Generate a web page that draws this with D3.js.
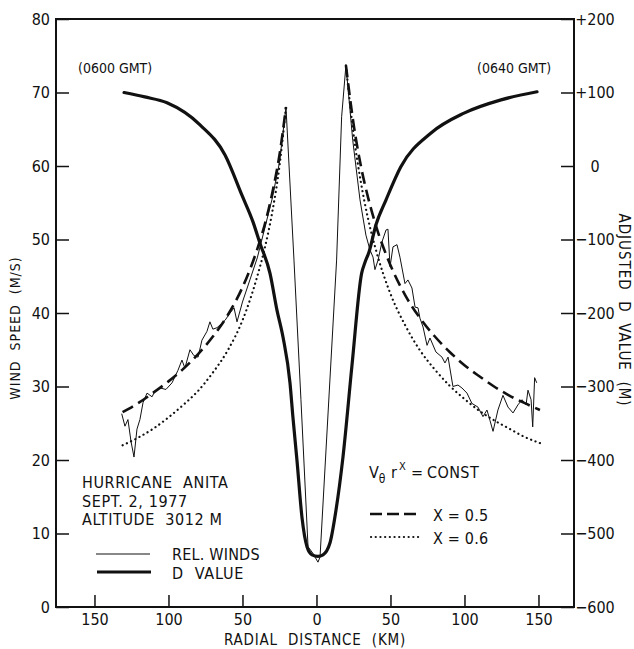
<!DOCTYPE html>
<html>
<head>
<meta charset="utf-8">
<script src="https://cdn.jsdelivr.net/npm/d3@7"></script>
<style>
    body { margin: 0; background: #fff; }
    svg text { font-family: 'Liberation Sans Narrow', 'DejaVu Sans Condensed', sans-serif; fill: #111; }
    .tick line { stroke: #111; stroke-width: 1.5; }
    .tick text { font-size: 16px; }
</style>
</head>
<body>
<div id="chart"></div>
<script>
// Relative winds (thin line), km from centre / m/s
const windKm = [-131.6, -129.4, -127.4, -125.3, -123.3, -121.3, -119.3, -117.2, -114.5, -111.1,
    -109.1, -105.7, -101.7, -97.6, -93.6, -90.9, -88.9, -85.5, -82.8, -80,
    -77.4, -74, -72, -70, -67.2, -64.5, -61.8, -58.4, -55.7, -53.7,
    -50, -45, -40, -35, -30, -25, -20.6, -15.2, -10.5, -5.7,
    -2.4, 1, 2.4, 13.6, 17, 19.9, 24.5, 29.4, 33.4, 36.1,
    38.2, 39.5, 41.6, 44.3, 47, 48.3, 49.7, 51.7, 54.4, 56.4,
    59.8, 61.8, 64.5, 66.6, 68.6, 69.9, 72, 74.7, 76.7, 80.7,
    84.8, 86.8, 88.9, 92.2, 95.6, 98.3, 101.7, 105, 109.1, 112.5,
    115.2, 117.2, 119.3, 122.6, 126, 129.4, 132.8, 136.1, 138.9, 141.6,
    142.9, 145, 146.1, 147.4, 148.8];
const windVal = [26.3, 24.6, 25.5, 22.5, 20.4, 24.2, 25.5, 27.8, 29.1, 28.6,
    29.4, 29.8, 29.6, 30.5, 32.2, 33.6, 32.5, 35, 34.2, 34,
    36.3, 37.5, 38.8, 37.8, 38, 38.5, 39, 40, 40.7, 38.8,
    41.5, 44.5, 47.5, 51.5, 55.5, 60.5, 68, 47.2, 28.2, 8.2,
    7.3, 6.1, 6.8, 47.2, 66.7, 73.7, 63.5, 55.4, 50.6, 48.6,
    47.6, 45.9, 47.2, 49.7, 51.3, 51.4, 46.3, 49, 49.3, 47.6,
    44, 44.5, 43.4, 40.8, 40.7, 39.3, 38.1, 35.6, 36.6, 34.7,
    34, 33.2, 34, 30, 30.2, 29.8, 29.1, 27.7, 27.2, 25.9,
    26.8, 25.4, 23.9, 26.8, 28.8, 27.2, 26.4, 27.5, 28.2, 27.5,
    29.5, 28.2, 24.5, 31.2, 30.5];

// Adjusted D value (thick line), metres
const dKm = [-130, -116, -101, -78.7, -61.8, -50.3, -42.9, -38.2, -31.4, -26.7,
    -22.6, -17.9, -15.9, -13.2, -9.8, -6.4, -3, 1, 4.4, 9.1,
    13.2, 17.9, 24, 30.5, 32.8, 35.5, 40.2, 47, 57, 77.4,
    99.7, 124.7, 149];
const dVal = [100, 94, 86, 56, 15, -40, -76, -105, -146, -196,
    -233, -295, -342, -400, -478, -518, -529, -531, -529, -513,
    -468, -396, -271, -146, -131, -117, -80, -46, -1, 45,
    72, 90, 101];

// V r^x = const, x = 0.5 (dashed) and x = 0.6 (dotted)
const fitLeftKm = [-131, -120, -110, -100, -90, -80, -70, -60, -50, -40, -35, -30, -25, -20.6];
const dashLeft = [26.5, 27.8, 29.2, 30.7, 32.4, 34.4, 36.8, 39.7, 43.5, 48.7, 52, 56.2, 61.5, 68];
const dotLeft = [22, 23.1, 24.3, 25.8, 27.5, 29.4, 31.9, 34.9, 39, 45, 48.8, 53.6, 60, 68];
const fitRightKm = [19.9, 25, 30, 35, 40, 50, 60, 70, 80, 90, 100, 110, 120, 130, 140, 151];
const dashRight = [73.7, 65.8, 60, 55.6, 52, 46.5, 42.4, 39.3, 36.8, 34.7, 32.9, 31.4, 30, 28.8, 27.8, 26.8];
const dotRight = [73.7, 64.4, 57.8, 52.7, 48.7, 42.6, 38.3, 34.9, 32.3, 30.1, 28.3, 26.7, 25.4, 24.3, 23.2, 22.3];

// Tick values
const windTicks = [0, 10, 20, 30, 40, 50, 60, 70, 80];
const dTicks = [-600, -500, -400, -300, -200, -100, 0, 100, 200];
const kmTicks = [-150, -100, -50, 0, 50, 100, 150];

const width = 634;
const height = 649;
const plot = { left: 56, right: 574, top: 19, bottom: 607 };

const svg = d3.select("#chart").append("svg")
    .attr("width", width)
    .attr("height", height);

const x = d3.scaleLinear().domain([-176, 174]).range([plot.left, plot.right]);
const yW = d3.scaleLinear().domain([0, 80]).range([plot.bottom, plot.top]);
const yD = d3.scaleLinear().domain([-600, 200]).range([plot.bottom, plot.top]);

// Axes (ticks point inward)
svg.append("g")
    .attr("transform", `translate(${plot.left},0)`)
    .call(d3.axisLeft(yW).tickValues(windTicks).tickSize(-13).tickPadding(6))
    .call(g => g.select(".domain").remove());

const fmtD = d => d > 0 ? "+" + d : d < 0 ? "\u2212" + Math.abs(d) : "0";
svg.append("g")
    .attr("transform", `translate(${plot.right},0)`)
    .call(d3.axisRight(yD).tickValues(dTicks).tickSize(-13).tickFormat(fmtD))
    .call(g => g.select(".domain").remove())
    .call(g => g.selectAll(".tick text").attr("x", 21).attr("text-anchor", "middle"));

svg.append("g")
    .attr("transform", `translate(0,${plot.bottom})`)
    .call(d3.axisBottom(x).tickValues(kmTicks).tickSize(-12).tickPadding(7).tickFormat(d => Math.abs(d)))
    .call(g => g.select(".domain").remove());

// Frame
svg.append("rect")
    .attr("x", plot.left).attr("y", plot.top)
    .attr("width", plot.right - plot.left).attr("height", plot.bottom - plot.top)
    .attr("fill", "none").attr("stroke", "#111").attr("stroke-width", 2);

// Axis titles
svg.append("text")
    .attr("x", (plot.left + plot.right) / 2).attr("y", 645)
    .attr("text-anchor", "middle").attr("font-size", 15).attr("letter-spacing", 0.8)
    .attr("xml:space", "preserve")
    .text("RADIAL  DISTANCE  (KM)");

svg.append("text")
    .attr("transform", `translate(20,328) rotate(-90)`)
    .attr("text-anchor", "middle").attr("font-size", 14).attr("letter-spacing", 1)
    .attr("xml:space", "preserve")
    .text("WIND  SPEED  (M/S)");

svg.append("text")
    .attr("transform", `translate(619,310) rotate(90)`)
    .attr("text-anchor", "middle").attr("font-size", 15).attr("letter-spacing", 1)
    .attr("xml:space", "preserve")
    .text("ADJUSTED  D  VALUE  (M)");

// Lines
const zip = (a, b) => a.map((v, i) => [v, b[i]]);

const windLine = d3.line().x(d => x(d[0])).y(d => yW(d[1]));
const windCurve = d3.line().x(d => x(d[0])).y(d => yW(d[1])).curve(d3.curveMonotoneX);
const dLine = d3.line().x(d => x(d[0])).y(d => yD(d[1])).curve(d3.curveMonotoneX);

const lines = svg.append("g").attr("fill", "none").attr("stroke", "#111");

[fitLeftKm, fitRightKm].forEach((km, i) => {
    const dash = i === 0 ? dashLeft : dashRight;
    const dot = i === 0 ? dotLeft : dotRight;
    lines.append("path")
        .attr("d", windCurve(zip(km, dash)))
        .attr("stroke-width", 2.6)
        .attr("stroke-dasharray", "12,6");
    lines.append("path")
        .attr("d", windCurve(zip(km, dot)))
        .attr("stroke-width", 2.2)
        .attr("stroke-linecap", "round")
        .attr("stroke-dasharray", "0.1,4.6");
});

lines.append("path")
    .attr("d", windLine(zip(windKm, windVal)))
    .attr("stroke-width", 1)
    .attr("stroke-linejoin", "round");

lines.append("path")
    .attr("d", dLine(zip(dKm, dVal)))
    .attr("stroke-width", 3.2)
    .attr("stroke-linecap", "round");

// Time labels
svg.append("text").attr("x", 78).attr("y", 73).attr("font-size", 14).text("(0600 GMT)");
svg.append("text").attr("x", 477).attr("y", 73).attr("font-size", 14).text("(0640 GMT)");

// Info block
const info = ["HURRICANE  ANITA", "SEPT. 2, 1977", "ALTITUDE  3012 M"];
svg.append("g").selectAll("text")
    .data(info)
    .join("text")
    .attr("x", 82)
    .attr("y", (d, i) => 488 + i * 18.5)
    .attr("font-size", 16)
    .attr("letter-spacing", 0.6)
    .attr("xml:space", "preserve")
    .text(d => d);

// Legend: line types
const legendLeft = svg.append("g");
legendLeft.append("line").attr("x1", 96).attr("x2", 150).attr("y1", 554).attr("y2", 554)
    .attr("stroke", "#111").attr("stroke-width", 1);
legendLeft.append("line").attr("x1", 97).attr("x2", 151).attr("y1", 572).attr("y2", 572)
    .attr("stroke", "#111").attr("stroke-width", 3.2);
legendLeft.append("text").attr("x", 172).attr("y", 560).attr("font-size", 16).attr("letter-spacing", 0.2)
    .text("REL. WINDS");
legendLeft.append("text").attr("x", 172).attr("y", 579).attr("font-size", 16).attr("letter-spacing", 0.8)
    .attr("xml:space", "preserve").text("D  VALUE");

const legendRight = svg.append("g");
const formula = legendRight.append("text").attr("y", 478).attr("font-size", 16);
formula.append("tspan").attr("x", 369).text("V");
formula.append("tspan").attr("dy", 5).attr("font-size", 12).text("\u03b8");
formula.append("tspan").attr("x", 391).attr("dy", -5).text("r");
formula.append("tspan").attr("x", 399).attr("dy", -8).attr("font-size", 11).text("X");
formula.append("tspan").attr("x", 411).attr("dy", 8).text("=");
formula.append("tspan").attr("x", 427).attr("letter-spacing", 0.4).text("CONST");

legendRight.append("line").attr("x1", 370).attr("x2", 420).attr("y1", 514).attr("y2", 514)
    .attr("stroke", "#111").attr("stroke-width", 2.6).attr("stroke-dasharray", "12,5");
legendRight.append("line").attr("x1", 371).attr("x2", 420).attr("y1", 537).attr("y2", 537)
    .attr("stroke", "#111").attr("stroke-width", 2.2).attr("stroke-linecap", "round")
    .attr("stroke-dasharray", "0.1,4.6");
legendRight.append("text").attr("x", 433).attr("y", 521).attr("font-size", 16).attr("letter-spacing", 0.2)
    .text("X = 0.5");
legendRight.append("text").attr("x", 433).attr("y", 544).attr("font-size", 16).attr("letter-spacing", 0.2)
    .text("X = 0.6");
</script>
</body>
</html>
